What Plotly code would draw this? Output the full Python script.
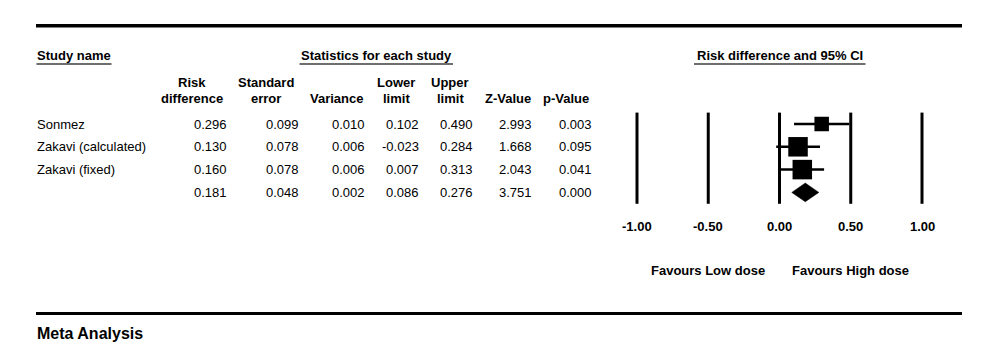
import plotly.graph_objects as go

# ---------------- data ----------------
studies = ["Sonmez", "Zakavi (calculated)", "Zakavi (fixed)"]
risk_diff = [0.296, 0.130, 0.160]
std_err = [0.099, 0.078, 0.078]
variance = [0.010, 0.006, 0.006]
lower_limit = [0.102, -0.023, 0.007]
upper_limit = [0.490, 0.284, 0.313]
z_value = [2.993, 1.668, 2.043]
p_value = [0.003, 0.095, 0.041]

pooled_risk_diff = 0.181
pooled_std_err = 0.048
pooled_variance = 0.002
pooled_lower = 0.086
pooled_upper = 0.276
pooled_z = 3.751
pooled_p = 0.000

header_top = ["Risk", "Standard", "", "Lower", "Upper", "", ""]
header_bottom = ["difference", "error", "Variance", "limit", "limit", "Z-Value", "p-Value"]
section_titles = ["Study name", "Statistics for each study", "Risk difference and 95% CI"]
tick_vals = [-1.0, -0.5, 0.0, 0.5, 1.0]
tick_labels = ["-1.00", "-0.50", "0.00", "0.50", "1.00"]
favours_vals = [-0.5, 0.5]
favours_labels = ["Favours Low dose", "Favours High dose"]
footer_title = "Meta Analysis"

# ---------------- layout helpers ----------------
W, H = 1000, 355
FONT = "Liberation Sans, Arial, sans-serif"
ZERO_PX, UNIT_PX = 779.5, 142.5        # forest axis: pixel of 0, pixels per unit
ROW0_PX, ROW_PX = 124.0, 22.8           # row axis: pixel of first row, pixels per row


def px(x):
    return x / W


def py(y):
    return 1 - y / H


def row_of(ypix):
    return (ypix - ROW0_PX) / ROW_PX


fig = go.Figure()

# vertical reference lines at the tick values
vx, vy = [], []
for v in tick_vals:
    vx += [v, v, None]
    vy += [-0.5, 3.5, None]
fig.add_trace(go.Scatter(x=vx, y=vy, mode="lines",
                         line=dict(color="black", width=3), hoverinfo="skip"))

# confidence intervals
cx, cy = [], []
for i in range(len(studies)):
    cx += [lower_limit[i], upper_limit[i], None]
    cy += [i, i, None]
fig.add_trace(go.Scatter(x=cx, y=cy, mode="lines",
                         line=dict(color="black", width=2.5), hoverinfo="skip"))

# study point estimates
fig.add_trace(go.Scatter(x=risk_diff, y=list(range(len(studies))), mode="markers",
                         marker=dict(symbol="square", color="black", opacity=1,
                                     size=[14.5, 19.5, 19.5], line=dict(width=0))))

# pooled diamond
r = len(studies)
hh = 0.41
fig.add_trace(go.Scatter(
    x=[pooled_lower, pooled_risk_diff, pooled_upper, pooled_risk_diff, pooled_lower],
    y=[r, r - hh, r, r + hh, r],
    mode="lines", fill="toself", fillcolor="black",
    line=dict(color="black", width=0.5), hoverinfo="skip"))

ann = []


def add_text(text, x, y, xref="paper", yref="paper", xanchor="center",
             size=13, bold=False):
    ann.append(dict(text=f"<b>{text}</b>" if bold else text, x=x, y=y,
                    xref=xref, yref=yref, xanchor=xanchor, yanchor="middle",
                    showarrow=False, borderpad=0, borderwidth=0,
                    font=dict(family=FONT, size=size, color="black")))


# section titles
add_text(section_titles[0], px(37), py(55), xanchor="left", bold=True)
add_text(section_titles[1], px(376), py(55), bold=True)
add_text(section_titles[2], px(780), py(55), bold=True)

# column headers
col_center = [192, 266, 337, 396, 450, 508, 566]
col_right = [227, 299, 365, 419, 473, 532, 592]
for c in range(7):
    if header_top[c]:
        add_text(header_top[c], px(col_center[c]), py(82), bold=True)
    add_text(header_bottom[c], px(col_center[c]), py(98), bold=True)

# table body
columns = [risk_diff, std_err, variance, lower_limit, upper_limit, z_value, p_value]
pooled_vals = [pooled_risk_diff, pooled_std_err, pooled_variance, pooled_lower,
               pooled_upper, pooled_z, pooled_p]
for i, name in enumerate(studies):
    add_text(name, px(37), i, yref="y", xanchor="left")
    for c in range(7):
        add_text(f"{columns[c][i]:.3f}", px(col_right[c]), i, yref="y", xanchor="right")
for c in range(7):
    add_text(f"{pooled_vals[c]:.3f}", px(col_right[c]), r, yref="y", xanchor="right")

# forest axis tick labels and favours labels
for v, t in zip(tick_vals, tick_labels):
    add_text(t, v, row_of(226), xref="x", yref="y", bold=True)
for v, t in zip(favours_vals, favours_labels):
    add_text(t, v, row_of(270), xref="x", yref="y", bold=True)

add_text(footer_title, px(37), py(333), xanchor="left", size=16, bold=True)

shapes = [
    dict(type="line", xref="paper", yref="paper", x0=px(36), x1=px(962),
         y0=py(25.7), y1=py(25.7), line=dict(color="black", width=3.5)),
    dict(type="line", xref="paper", yref="paper", x0=px(36), x1=px(962),
         y0=py(313.5), y1=py(313.5), line=dict(color="black", width=3)),
]
for x0, x1 in [(36.5, 111.5), (299.5, 453), (694, 865.5)]:
    shapes.append(dict(type="line", xref="paper", yref="paper", x0=px(x0), x1=px(x1),
                       y0=py(64), y1=py(64), line=dict(color="#6e6e6e", width=2)))

fig.update_layout(
    width=W, height=H, margin=dict(l=0, r=0, t=0, b=0),
    paper_bgcolor="white", plot_bgcolor="white", showlegend=False,
    xaxis=dict(range=[-ZERO_PX / UNIT_PX, (W - ZERO_PX) / UNIT_PX], domain=[0, 1],
               visible=False, fixedrange=True),
    yaxis=dict(range=[(H - ROW0_PX) / ROW_PX, -ROW0_PX / ROW_PX], domain=[0, 1],
               visible=False, fixedrange=True),
    annotations=ann, shapes=shapes,
    font=dict(family=FONT, color="black"),
)

fig.write_html(
    "out.html",
    config={"displayModeBar": False},
    post_script="document.body.style.margin='0';document.body.style.overflow='hidden';",
)
